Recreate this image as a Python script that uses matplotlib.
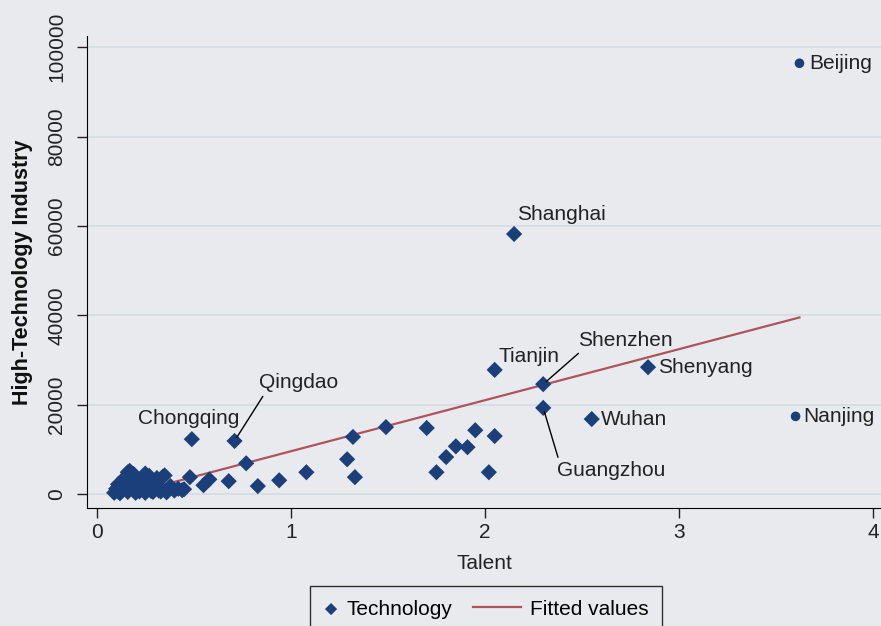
import numpy as np
import matplotlib.pyplot as plt
from matplotlib.legend_handler import HandlerLine2D

plt.rcParams['font.family'] = ['Liberation Sans', 'DejaVu Sans']

# named cities (talent, high-tech output)
cities = ['Beijing', 'Shanghai', 'Tianjin', 'Shenzhen', 'Shenyang', 'Guangzhou',
          'Wuhan', 'Nanjing', 'Qingdao', 'Chongqing']
city_x = [3.62, 2.15, 2.05, 2.30, 2.84, 2.30, 2.55, 3.60, 0.71, 0.49]
city_y = [96400, 58200, 27800, 24600, 28400, 19300, 16800, 17400, 11900, 12300]

# other unlabeled cities
other_x = [1.32, 0.77, 1.29, 1.33, 1.08, 0.94, 0.83, 0.68, 0.58, 0.55, 0.48, 0.45,
           1.49, 1.70, 1.95, 2.05, 1.85, 1.91, 1.80, 1.75, 2.02,
           0.09, 0.10, 0.11, 0.12, 0.13, 0.14, 0.15, 0.16, 0.17, 0.18, 0.19, 0.20,
           0.21, 0.22, 0.23, 0.24, 0.25, 0.26, 0.27, 0.28, 0.29, 0.30, 0.31, 0.32,
           0.33, 0.34, 0.35, 0.36, 0.37, 0.38, 0.40, 0.42, 0.44, 0.12, 0.14, 0.16,
           0.18, 0.22, 0.25, 0.28, 0.33, 0.11, 0.15, 0.20]
other_y = [12800, 6900, 7800, 3800, 4900, 3100, 1800, 2900, 3300, 2000, 3800, 1100,
           15000, 14800, 14300, 13000, 10700, 10500, 8300, 4900, 4900,
           300, 1200, 600, 2000, 800, 2600, 1500, 4900, 5200, 3000, 4500, 1000,
           2400, 600, 3200, 1800, 4600, 900, 4100, 2200, 500, 1600, 3600, 800,
           1300, 3900, 4200, 400, 1000, 1800, 800, 1200, 900, 200, 3500, 500,
           2800, 1400, 300, 700, 600, 2200, 1100, 300]

talent = np.array(city_x + other_x)
tech = np.array(city_y + other_y)

# label placement: offset in pixels, alignment, connector start (relpos) or None
label_pos = {'Beijing': (10, 0, 'left', None),
             'Shanghai': (3, 20, 'left', None),
             'Tianjin': (4, 13, 'left', None),
             'Shenzhen': (82, 44, 'center', (0.05, 0.0)),
             'Shenyang': (10, 0, 'left', None),
             'Guangzhou': (68, -63, 'center', (0.02, 1.0)),
             'Wuhan': (9, 0, 'left', None),
             'Nanjing': (8, 0, 'left', None),
             'Qingdao': (64, 58, 'center', (0.08, 0.0)),
             'Chongqing': (-3, 21, 'center', None)}
round_dots = ['Beijing', 'Nanjing']


class LongLine(HandlerLine2D):
    # legend line that reaches further to the left than the marker handle
    def get_xdata(self, legend, xdescent, ydescent, width, height, fontsize):
        xd = np.array([-xdescent - 1.6 * fontsize, -xdescent + width])
        return xd, xd


bg = '#e8eaed'
navy = '#1a3f7a'
txt = '#222222'
fs = 15

fig = plt.figure(figsize=(8.81, 6.26), dpi=100, facecolor=bg)
ax = fig.add_axes([87 / 881, 1 - 508 / 626, 1 - 87 / 881, 472 / 626], facecolor=bg)

is_dot = np.array([c in round_dots for c in cities] + [False] * len(other_x))
sc = ax.scatter(talent[~is_dot], tech[~is_dot], marker='D', s=68, color=navy,
                edgecolors='none', label='Technology', zorder=3)
ax.scatter(talent[is_dot], tech[is_dot], marker='o', s=48, color=navy,
           edgecolors='none', zorder=3)

coef = np.polyfit(talent, tech, 1)
xs = np.array([talent.min(), talent.max()])
fit, = ax.plot(xs, np.polyval(coef, xs), color='#ae545c', lw=1.6,
               label='Fitted values', zorder=2)

for name, x, y in zip(cities, city_x, city_y):
    dx, dy, ha, rel = label_pos[name]
    if rel is not None:
        ax.annotate(name, (x, y), xytext=(dx, dy), textcoords='offset pixels',
                    ha=ha, va='center', fontsize=fs, color=txt,
                    arrowprops=dict(arrowstyle='-', color='black', lw=1,
                                    relpos=rel, shrinkA=1, shrinkB=3))
    else:
        ax.annotate(name, (x, y), xytext=(dx, dy), textcoords='offset pixels',
                    ha=ha, va='center', fontsize=fs, color=txt)

ax.set_xlim(-0.05, 4.04)
ax.set_ylim(-3100, 102500)
ax.set_xticks([0, 1, 2, 3, 4])
ax.set_yticks([0, 20000, 40000, 60000, 80000, 100000])
ax.tick_params(axis='both', length=7, width=1, labelsize=15, colors=txt)
ax.tick_params(axis='y', pad=8)
for lab in ax.get_yticklabels():
    lab.set_rotation(90)
    lab.set_va('center')
ax.grid(axis='y', color='#d3dbe2', lw=1.2)
ax.set_axisbelow(True)
ax.spines['top'].set_visible(False)
ax.spines['right'].set_visible(False)
ax.set_xlabel('Talent', fontsize=15, color=txt, labelpad=9)
ax.set_ylabel('High-Technology Industry', fontsize=15.5, fontweight='bold',
              color='#111111', labelpad=10)

leg = fig.legend([sc, fit], ['Technology', 'Fitted values'],
                 handler_map={fit: LongLine()},
                 loc='upper center', bbox_to_anchor=(486 / 881, 1 - 586 / 626), ncol=2,
                 frameon=True, fancybox=False, edgecolor='black', facecolor=bg,
                 fontsize=15, handlelength=0.7, markerscale=0.75, columnspacing=2.6,
                 borderpad=0.65, handletextpad=0.4, borderaxespad=0)
leg.get_frame().set_linewidth(1)

fig.savefig('out.png', dpi=100, facecolor=bg)
